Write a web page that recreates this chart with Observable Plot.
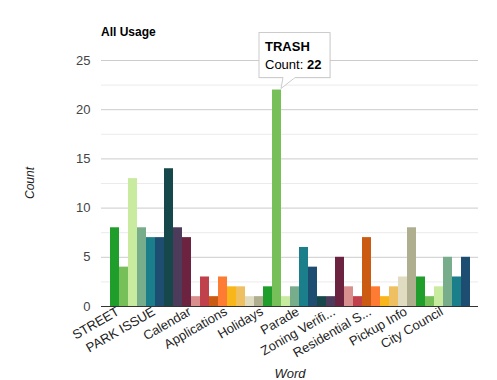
<!DOCTYPE html>
<html>
<head>
<meta charset="utf-8">
<script src="https://cdn.jsdelivr.net/npm/d3@7"></script>
<script src="https://cdn.jsdelivr.net/npm/@observablehq/plot@0.6"></script>
<style>
  body { margin: 0; background: #fff; }
  #chart svg { display: block; font-family: "Liberation Sans", Arial, sans-serif; }
</style>
</head>
<body>
<div id="chart"></div>
<script>
// ---- data ----
const title = "All Usage";
const xTitle = "Word";
const yTitle = "Count";
// visible tick labels (every 4th word, starting at the first)
const tickLabels = ["STREET", "PARK ISSUE", "Calendar", "Applications", "Holidays",
  "Parade", "Zoning Verifi...", "Residential S...", "Pickup Info", "City Council"];
// counts for all 40 words, left to right
const counts = [8, 4, 13, 8, 7, 7, 14, 8, 7, 1,
                3, 1, 3, 2, 2, 1, 1, 2, 22, 1,
                2, 6, 4, 1, 1, 5, 2, 1, 7, 2,
                1, 2, 3, 8, 3, 1, 2, 5, 3, 5];
const highlightIndex = 18;
const highlightWord = "TRASH";
const palette = ["#1f9e2c", "#76bf59", "#c9eb9f", "#78ad8b", "#1b7e8b", "#1d4e71",
  "#16474a", "#4c3b5b", "#6c2340", "#d98f8e", "#c0414b", "#cb5a12", "#fd7b32",
  "#f8b61a", "#efc062", "#e0dcc1", "#afae8f"];
const yTicks = [0, 5, 10, 15, 20, 25];
const yMinor = [2.5, 7.5, 12.5, 17.5, 22.5];

const rows = counts.map((c, i) => ({i, c}));
const tickIdx = tickLabels.map((_, k) => k * 4);

const W = 497, H = 380;
const chart = Plot.plot({
  width: W, height: H,
  marginLeft: 101, marginRight: 19, marginTop: 60, marginBottom: 74,
  style: {fontFamily: "Liberation Sans, Arial, sans-serif", background: "#fff"},
  x: {type: "band", domain: d3.range(counts.length), padding: 0, axis: null},
  y: {domain: [0, 25], axis: null},
  color: {type: "identity"},
  marks: [
    Plot.gridY(yMinor, {stroke: "#ebebeb", strokeOpacity: 1}),
    Plot.gridY(yTicks.slice(1), {stroke: "#cccccc", strokeOpacity: 1}),
    Plot.barY(rows, {x: "i", y: "c", fill: d => palette[d.i % palette.length], insetLeft: 0, insetRight: 0}),
    Plot.ruleY([0], {stroke: "#333"}),
    Plot.axisY(yTicks, {tickSize: 0, tickPadding: 11, fontSize: 13, fill: "#444", label: null}),
    Plot.axisX(tickIdx, {tickSize: 0, tickRotate: -30, tickPadding: 4, dx: 3, fontSize: 13, fill: "#222",
      tickFormat: i => tickLabels[i / 4], label: null})
  ]
});
document.getElementById("chart").appendChild(chart);

const svg = d3.select(chart);
const sx = chart.scale("x"), sy = chart.scale("y");

svg.append("text").attr("x", 101).attr("y", 36).attr("text-anchor", "start").attr("font-size", 12).attr("font-weight", "bold")
  .attr("fill", "#000").text(title);
svg.append("text").attr("transform", `translate(34,${(60 + 306) / 2}) rotate(-90)`)
  .attr("text-anchor", "middle").attr("font-size", 12).attr("font-style", "italic").attr("fill", "#222").text(yTitle);
svg.append("text").attr("x", 290).attr("y", 378).attr("text-anchor", "middle")
  .attr("font-size", 13).attr("font-style", "italic").attr("fill", "#222").text(xTitle);

// tooltip for highlighted bar
const tx = sx.apply(highlightIndex) + sx.bandwidth;
const ty = sy.apply(counts[highlightIndex]);
const g = svg.append("g").attr("text-anchor", "start");
const bx = tx - 22, by = ty - 57, bw = 71, bh = 45;
g.append("rect").attr("x", bx + 1).attr("y", by + 1).attr("width", bw).attr("height", bh).attr("fill", "#000").attr("opacity", 0.06);
g.append("rect").attr("x", bx).attr("y", by).attr("width", bw).attr("height", bh).attr("fill", "#fff").attr("stroke", "#ccc");
g.append("path").attr("d", `M${tx + 2},${by + bh} L${tx},${ty - 1} L${tx + 14},${by + bh}`)
  .attr("fill", "#fff").attr("stroke", "#ccc");
g.append("line").attr("x1", tx + 2.5).attr("x2", tx + 13.5).attr("y1", by + bh).attr("y2", by + bh).attr("stroke", "#fff").attr("stroke-width", 1.5);
g.append("text").attr("x", bx + 6).attr("y", by + 18).attr("font-size", 13).attr("font-weight", "bold").attr("fill", "#000").text(highlightWord);
const t2 = g.append("text").attr("x", bx + 6).attr("y", by + 36).attr("font-size", 13).attr("fill", "#000");
t2.append("tspan").text("Count: ");
t2.append("tspan").attr("font-weight", "bold").text(counts[highlightIndex]);
</script>
</body>
</html>
